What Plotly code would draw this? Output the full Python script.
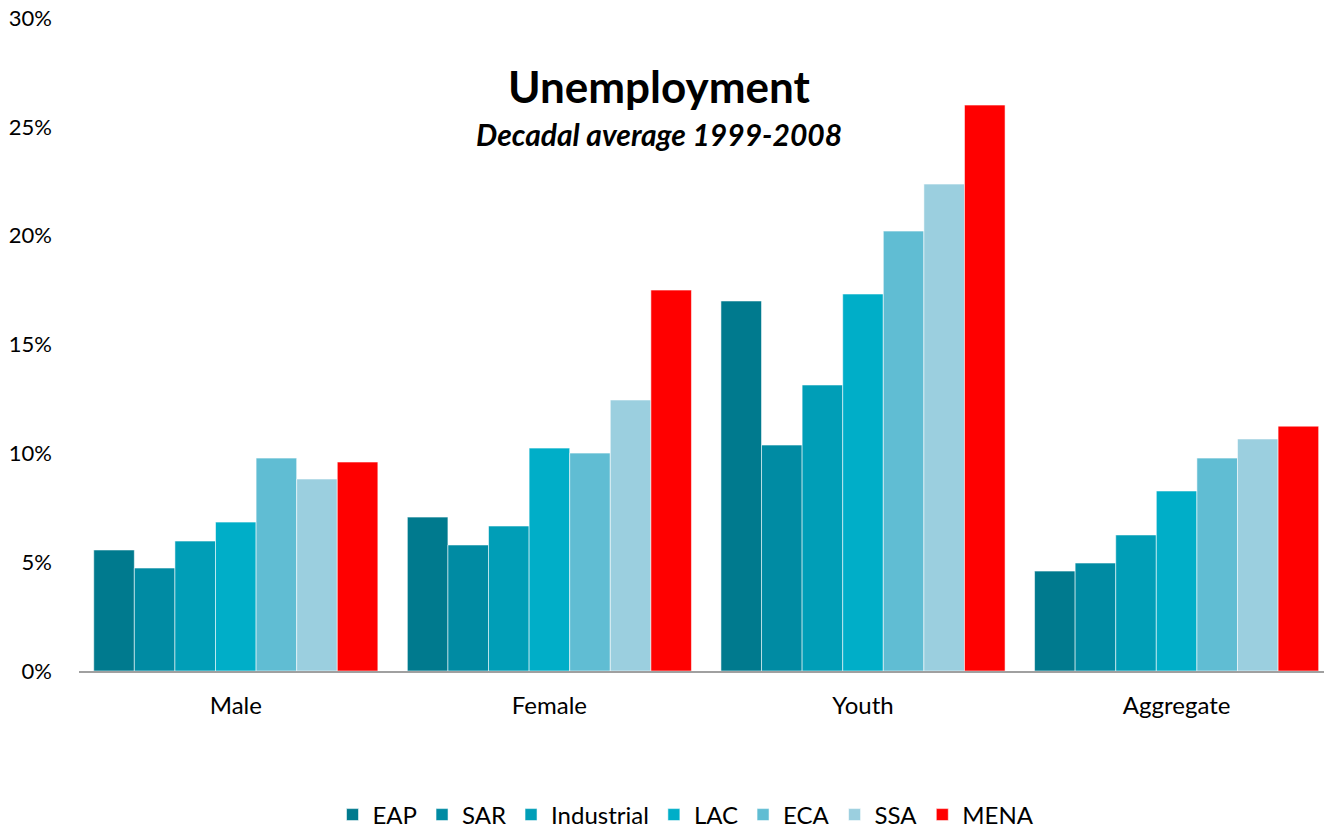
import plotly.graph_objects as go

categories = ["Male", "Female", "Youth", "Aggregate"]
regions = ["EAP", "SAR", "Industrial", "LAC", "ECA", "SSA", "MENA"]

eap = [5.56, 7.07, 17.0, 4.59]
sar = [4.73, 5.79, 10.38, 4.96]
industrial = [5.97, 6.66, 13.14, 6.25]
lac = [6.84, 10.24, 17.32, 8.27]
eca = [9.78, 10.01, 20.21, 9.78]
ssa = [8.82, 12.45, 22.37, 10.66]
mena = [9.60, 17.50, 26.00, 11.25]

series = [eap, sar, industrial, lac, eca, ssa, mena]
colors = ["#007A8E", "#008BA3", "#009EB7", "#00AEC8", "#60BDD3", "#9BCFDF", "#FF0000"]

y_ticks = [0, 5, 10, 15, 20, 25, 30]
y_tick_text = ["0%", "5%", "10%", "15%", "20%", "25%", "30%"]

FONT = "Lato, 'Open Sans', sans-serif"
W, H = 1324, 828

fig = go.Figure()
for name, vals, col in zip(regions, series, colors):
    fig.add_trace(go.Bar(
        x=categories, y=vals, name=name,
        marker=dict(color=col, line=dict(color="rgba(255,255,255,0.55)", width=1)),
    ))

PLOT_TOP, PLOT_BOTTOM = 18, 671
plot_h = PLOT_BOTTOM - PLOT_TOP

fig.update_layout(
    width=W, height=H,
    barmode="group", bargap=0.094, bargroupgap=0,
    plot_bgcolor="white", paper_bgcolor="white",
    margin=dict(l=79, r=0, t=PLOT_TOP, b=H - PLOT_BOTTOM, autoexpand=False),
    font=dict(family=FONT, size=22, color="#000000"),
    showlegend=True,
    legend=dict(orientation="h", x=686 / W, xanchor="center", xref="container",
                y=1 - 815 / H, yanchor="middle", yref="container",
                font=dict(size=24), itemwidth=30, traceorder="normal"),
    xaxis=dict(range=[-0.5, 3.47], showline=True, linecolor="#A0A0A0", linewidth=2,
               ticks="", showgrid=False, tickfont=dict(size=24), ticklabelstandoff=12),
    yaxis=dict(range=[0, 30], tickvals=y_ticks, ticktext=y_tick_text, showgrid=False,
               zeroline=False, showline=False, ticks="", ticklabelstandoff=26,
               tickfont=dict(size=22)),
)

# title and subtitle placed above the bars
center_x = (659 - 79) / 1245
fig.add_annotation(text="<b>Unemployment</b>", xref="paper", yref="paper",
                   x=center_x, y=(PLOT_BOTTOM - 86) / plot_h, showarrow=False,
                   font=dict(size=44), xanchor="center", yanchor="middle")
fig.add_annotation(text="<b><i>Decadal average 1999-2008</i></b>", xref="paper", yref="paper",
                   x=center_x, y=(PLOT_BOTTOM - 134) / plot_h, showarrow=False,
                   font=dict(size=30), xanchor="center", yanchor="middle")

fig.write_html("out.html")
